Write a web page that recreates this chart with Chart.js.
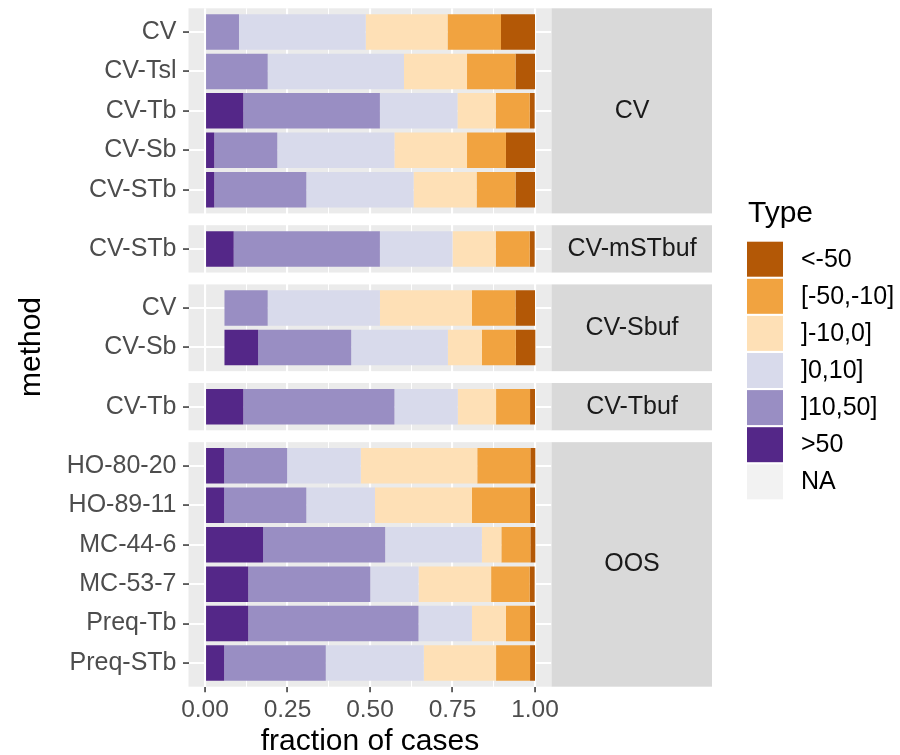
<!DOCTYPE html>
<html>
<head>
<meta charset="utf-8">
<script src="https://cdn.jsdelivr.net/npm/chart.js@4"></script>
<style>
  html, body { margin: 0; padding: 0; background: #fff; }
  canvas { display: block; }
</style>
</head>
<body>
<canvas id="chart" width="900" height="755"></canvas>
<script>
// rows, top to bottom
const methods = ['CV', 'CV-Tsl', 'CV-Tb', 'CV-Sb', 'CV-STb',
                 'CV-STb',
                 'CV', 'CV-Sb',
                 'CV-Tb',
                 'HO-80-20', 'HO-89-11', 'MC-44-6', 'MC-53-7', 'Preq-Tb', 'Preq-STb'];
const facets = ['CV', 'CV', 'CV', 'CV', 'CV',
                'CV-mSTbuf',
                'CV-Sbuf', 'CV-Sbuf',
                'CV-Tbuf',
                'OOS', 'OOS', 'OOS', 'OOS', 'OOS', 'OOS'];

// stacking order, left to right
const typeLabels = ['NA', '>50', ']10,50]', ']0,10]', ']-10,0]', '[-50,-10]', '<-50'];

const fracNA       = [0, 0, 0, 0, 0, 0, 0.059, 0.059, 0, 0, 0, 0, 0, 0, 0];
const fracOver50   = [0, 0, 0.116, 0.028, 0.028, 0.087, 0, 0.102, 0.116, 0.058, 0.058, 0.176, 0.131, 0.131, 0.058];
const frac10to50   = [0.103, 0.190, 0.414, 0.191, 0.279, 0.443, 0.131, 0.282, 0.458, 0.191, 0.249, 0.370, 0.370, 0.516, 0.308];
const frac0to10    = [0.384, 0.413, 0.235, 0.355, 0.325, 0.220, 0.340, 0.293, 0.192, 0.223, 0.208, 0.293, 0.146, 0.162, 0.297];
const fracM10to0   = [0.248, 0.191, 0.116, 0.220, 0.191, 0.131, 0.279, 0.103, 0.116, 0.353, 0.294, 0.059, 0.220, 0.103, 0.219];
const fracM50toM10 = [0.162, 0.147, 0.103, 0.118, 0.118, 0.103, 0.132, 0.103, 0.103, 0.161, 0.176, 0.088, 0.117, 0.073, 0.103];
const fracUnderM50 = [0.103, 0.059, 0.015, 0.088, 0.059, 0.015, 0.059, 0.059, 0.015, 0.015, 0.015, 0.015, 0.015, 0.015, 0.015];

const xTickValues = [0, 0.25, 0.5, 0.75, 1];
const xTickLabels = ['0.00', '0.25', '0.50', '0.75', '1.00'];

const series = [fracNA, fracOver50, frac10to50, frac0to10, fracM10to0, fracM50toM10, fracUnderM50];
const fills = ['rgba(0,0,0,0)', '#542788', '#998EC3', '#D8DAEB', '#FEE0B6', '#F1A340', '#B35806'];
const legendKeyFills = ['#F2F2F2', '#542788', '#998EC3', '#D8DAEB', '#FEE0B6', '#F1A340', '#B35806'];

// facet layout in row units (ggplot discrete expansion 0.6 each side)
const GAP = 0.3;
const panels = [];
facets.forEach((f, i) => {
    if (i === 0 || f !== facets[i - 1]) panels.push({ name: f, n: 0 });
    panels[panels.length - 1].n++;
});
const rowPos = [];
let cursor = 0;
panels.forEach(p => {
    p.start = cursor;
    for (let k = 0; k < p.n; k++) rowPos.push(cursor + 0.6 + k);
    p.end = cursor + p.n + 0.2;
    cursor = p.end + GAP;
});
const yMax = panels[panels.length - 1].end;

const FONT = '"Liberation Sans", Arial, Helvetica, sans-serif';
Chart.defaults.font.family = FONT;

const facetPlugin = {
    id: 'facets',
    beforeDraw(chart) {
        const { ctx, chartArea: a, scales: { y } } = chart;
        ctx.save();
        ctx.fillStyle = '#EBEBEB';
        panels.forEach(p => {
            const y0 = y.getPixelForValue(p.start);
            const y1 = y.getPixelForValue(p.end);
            ctx.fillRect(a.left, y0, a.right - a.left, y1 - y0);
        });
        ctx.restore();
    },
    afterDraw(chart) {
        const { ctx, chartArea: a, scales: { y } } = chart;
        ctx.save();
        // strips
        panels.forEach(p => {
            const y0 = y.getPixelForValue(p.start);
            const y1 = y.getPixelForValue(p.end);
            ctx.fillStyle = '#D9D9D9';
            ctx.fillRect(a.right, y0, 160.5, y1 - y0);
            ctx.fillStyle = '#1A1A1A';
            ctx.font = '25px ' + FONT;
            ctx.textAlign = 'center';
            ctx.textBaseline = 'middle';
            ctx.fillText(p.name, a.right + 80.5, (y0 + y1) / 2);
        });
        // axis titles
        ctx.fillStyle = '#000';
        ctx.font = '30px ' + FONT;
        ctx.textAlign = 'center';
        ctx.textBaseline = 'alphabetic';
        ctx.fillText('fraction of cases', 370, 750);
        ctx.save();
        ctx.translate(40, 347);
        ctx.rotate(-Math.PI / 2);
        ctx.fillText('method', 0, 0);
        ctx.restore();
        // legend
        ctx.textAlign = 'left';
        ctx.fillText('Type', 748, 222);
        ctx.font = '25px ' + FONT;
        ctx.textBaseline = 'middle';
        const order = typeLabels.map((t, i) => i).slice(1).reverse().concat([0]);
        order.forEach((idx, k) => {
            const top = 241.7 + k * 37.1;
            ctx.fillStyle = legendKeyFills[idx];
            ctx.fillRect(747, top, 36, 35);
            ctx.fillStyle = '#000';
            ctx.fillText(typeLabels[idx], 801, top + 18);
        });
        ctx.restore();
    }
};

const isMajor = v => xTickValues.some(t => Math.abs(t - v) < 1e-9);

new Chart(document.getElementById('chart'), {
    type: 'bar',
    data: {
        datasets: series.map((vals, i) => ({
            label: typeLabels[i],
            data: vals.map((v, r) => ({ x: v, y: rowPos[r] })),
            backgroundColor: fills[i],
            borderWidth: 0,
            stack: 'all',
            barPercentage: 0.9,
            categoryPercentage: 1.0
        }))
    },
    options: {
        indexAxis: 'y',
        responsive: false,
        animation: false,
        layout: { padding: { top: 8.3, right: 348.5, left: 0, bottom: 0 } },
        plugins: {
            legend: { display: false },
            tooltip: { enabled: false }
        },
        scales: {
            x: {
                type: 'linear',
                stacked: true,
                min: -0.05,
                max: 1.05,
                afterBuildTicks: axis => {
                    const t = [];
                    for (let k = 0; k <= 8; k++) t.push({ value: k / 8 });
                    axis.ticks = t;
                },
                afterFit: axis => {
                    axis.height = 68.3;
                    axis.paddingLeft = 0;
                    axis.paddingRight = 0;
                },
                ticks: {
                    autoSkip: false,
                    maxRotation: 0,
                    padding: 3,
                    color: '#4D4D4D',
                    font: { size: 24.5 },
                    callback: v => {
                        const j = xTickValues.findIndex(t => Math.abs(t - v) < 1e-9);
                        return j >= 0 ? xTickLabels[j] : '';
                    }
                },
                grid: {
                    color: '#FFFFFF',
                    lineWidth: c => (c.tick && isMajor(c.tick.value)) ? 2.1 : 1.05,
                    tickLength: 5.5,
                    tickWidth: 1.5,
                    tickColor: c => (c.tick && isMajor(c.tick.value)) ? '#333333' : 'rgba(0,0,0,0)'
                },
                border: { display: false }
            },
            y: {
                type: 'linear',
                reverse: true,
                offset: false,
                min: 0,
                max: yMax,
                afterBuildTicks: axis => { axis.ticks = rowPos.map(v => ({ value: v })); },
                afterFit: axis => {
                    axis.width = 188.5;
                    axis.paddingTop = 0;
                    axis.paddingBottom = 0;
                },
                ticks: {
                    autoSkip: false,
                    padding: 6.5,
                    color: '#4D4D4D',
                    font: { size: 25 },
                    callback: (v, i) => methods[i]
                },
                grid: {
                    offset: false,
                    color: '#FFFFFF',
                    lineWidth: 2.1,
                    tickLength: 5.5,
                    tickWidth: 1.5,
                    tickColor: '#333333'
                },
                border: { display: false }
            }
        }
    },
    plugins: [facetPlugin]
});
</script>
</body>
</html>
